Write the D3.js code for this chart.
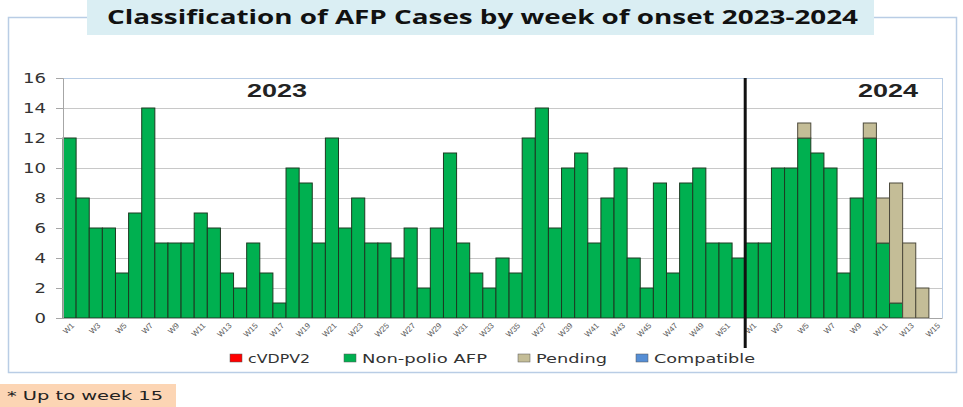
<!DOCTYPE html>
<html>
<head>
<meta charset="utf-8">
<script src="https://d3js.org/d3.v7.min.js"></script>
<style>
  body { margin: 0; background: #fff; }
  svg { display: block; font-family: "Liberation Sans", Arial, sans-serif; }
</style>
</head>
<body>
<div class="vis"></div>
<script>
    // weekly AFP case counts
    var weeks2023 = d3.range(1, 53).map(d => "W" + d);
    var weeks2024 = d3.range(1, 16).map(d => "W" + d);

    var nonPolio2023 = [12, 8, 6, 6, 3, 7, 14, 5, 5, 5, 7, 6, 3, 2, 5, 3, 1, 10, 9, 5,
        12, 6, 8, 5, 5, 4, 6, 2, 6, 11, 5, 3, 2, 4, 3, 12, 14, 6, 10, 11,
        5, 8, 10, 4, 2, 9, 3, 9, 10, 5, 5, 4];
    var pending2023 = nonPolio2023.map(() => 0);

    var nonPolio2024 = [5, 5, 10, 10, 12, 11, 10, 3, 8, 12, 5, 1, 0, 0, 0];
    var pending2024 = [0, 0, 0, 0, 1, 0, 0, 0, 0, 1, 3, 8, 5, 2, 0];

    var yTicks = [0, 2, 4, 6, 8, 10, 12, 14, 16];
    var legendItems = ["cVDPV2", "Non-polio AFP", "Pending", "Compatible"];
    var legendColors = ["#ff0000", "#00b050", "#c4bd97", "#558ed5"];

    var data = [];
    weeks2023.forEach((w, i) => data.push({ key: "2023-" + w, label: w, "Non-polio AFP": nonPolio2023[i], "Pending": pending2023[i] }));
    weeks2024.forEach((w, i) => data.push({ key: "2024-" + w, label: w, "Non-polio AFP": nonPolio2024[i], "Pending": pending2024[i] }));

    var width = 963, height = 407;
    var margin = { top: 78, right: 21, bottom: 89, left: 63 };

    var svg = d3.select('.vis')
        .append("svg")
        .attr("width", width)
        .attr("height", height)
        .attr("viewBox", [0, 0, width, height]);

    // outer chart frame
    svg.append("rect")
        .attr("x", 8.5).attr("y", 17.5)
        .attr("width", 948).attr("height", 355)
        .attr("fill", "none")
        .attr("stroke", "#b9cde5")
        .attr("stroke-width", 1.5);

    // title box
    svg.append("rect")
        .attr("x", 87).attr("y", 0)
        .attr("width", 787).attr("height", 35)
        .attr("fill", "#daeef3");
    svg.append("text")
        .attr("x", 107).attr("y", 24)
        .attr("font-weight", "bold")
        .attr("font-size", 20)
        .attr("font-family", "'Open Sans', sans-serif")
        .attr("fill", "#111")
        .attr("textLength", 751)
        .attr("lengthAdjust", "spacingAndGlyphs")
        .text("Classification of AFP Cases by week of onset 2023-2024");

    var x = d3.scaleBand()
        .domain(data.map(d => d.key))
        .range([margin.left, width - margin.right])
        .padding(0);

    var y = d3.scaleLinear()
        .domain([0, 16])
        .range([height - margin.bottom, margin.top]);

    // grid
    svg.append("g")
        .selectAll("line")
        .data(yTicks.slice(1))
        .join("line")
        .attr("x1", margin.left).attr("x2", width - margin.right)
        .attr("y1", d => y(d) + 0.5).attr("y2", d => y(d) + 0.5)
        .attr("stroke", d => d === 16 ? "#b9cde5" : "#c8c8c8")
        .attr("stroke-width", 1);

    // plot right border
    svg.append("line")
        .attr("x1", width - margin.right + 0.5).attr("x2", width - margin.right + 0.5)
        .attr("y1", margin.top).attr("y2", height - margin.bottom)
        .attr("stroke", "#b9cde5");

    var stack = d3.stack().keys(["Non-polio AFP", "Pending"]);
    var series = stack(data);
    var color = d3.scaleOrdinal(["Non-polio AFP", "Pending"], ["#00b050", "#c4bd97"]);
    var strokeColor = d3.scaleOrdinal(["Non-polio AFP", "Pending"], ["#1d3a22", "#4d4a3c"]);

    svg.append("g")
        .selectAll("g")
        .data(series)
        .join("g")
        .attr("fill", d => color(d.key))
        .attr("stroke", d => strokeColor(d.key))
        .attr("stroke-width", 1)
        .selectAll("rect")
        .data(d => d.filter(s => s[1] - s[0] > 0))
        .join("rect")
        .attr("x", d => x(d.data.key))
        .attr("y", d => y(d[1]))
        .attr("width", x.bandwidth())
        .attr("height", d => y(d[0]) - y(d[1]));

    // y axis
    var yAxis = g => g
        .attr("transform", `translate(${margin.left},0)`)
        .call(d3.axisLeft(y).tickValues(yTicks).tickSize(7).tickPadding(10))
        .call(g => g.select(".domain").attr("stroke", "#a6a6a6"))
        .call(g => g.selectAll(".tick line").attr("stroke", "#a6a6a6"))
        .call(g => g.selectAll(".tick text")
            .attr("font-size", 14)
            .attr("font-family", "'DejaVu Sans', sans-serif")
            .attr("fill", "#333")
            .attr("textLength", d => String(d).length * 11.5)
            .attr("lengthAdjust", "spacingAndGlyphs"));
    svg.append("g").call(yAxis);

    // x axis
    var xAxis = g => g
        .attr("transform", `translate(0,${height - margin.bottom})`)
        .call(d3.axisBottom(x).tickSize(0).tickFormat((k, i) => i % 2 === 0 ? data[i].label : ""))
        .call(g => g.select(".domain").attr("stroke", "#a6a6a6"))
        .call(g => g.selectAll(".tick text")
            .attr("font-size", 8)
            .attr("fill", "#595959")
            .attr("text-anchor", "end")
            .attr("dy", 0)
            .attr("transform", "translate(3,6) rotate(-45)"));
    svg.append("g").call(xAxis);

    // year divider
    var divX = x("2024-W1");
    svg.append("line")
        .attr("x1", divX).attr("x2", divX)
        .attr("y1", margin.top).attr("y2", 348)
        .attr("stroke", "#111")
        .attr("stroke-width", 3);

    // year labels
    var yearLabel = (cx, t) => svg.append("text")
        .attr("x", cx - 30).attr("y", 97)
        .attr("font-weight", "bold")
        .attr("font-size", 18)
        .attr("fill", "#222")
        .attr("textLength", 60)
        .attr("lengthAdjust", "spacingAndGlyphs")
        .text(t);
    yearLabel(277, "2023");
    yearLabel(888, "2024");

    // legend
    var legendX = [230, 344, 518, 636];
    var legendW = [62, 125, 71, 101];
    var legend = svg.append("g")
        .selectAll("g")
        .data(legendItems)
        .join("g")
        .attr("transform", (d, i) => `translate(${legendX[i]},358)`);
    legend.append("rect")
        .attr("x", 0).attr("y", -4)
        .attr("width", 12).attr("height", 8)
        .attr("fill", (d, i) => legendColors[i])
        .attr("stroke", "#555")
        .attr("stroke-width", 0.5);
    legend.append("text")
        .attr("x", 18).attr("y", 4.5)
        .attr("font-size", 12)
        .attr("font-family", "'DejaVu Sans', sans-serif")
        .attr("fill", "#333")
        .attr("textLength", (d, i) => legendW[i])
        .attr("lengthAdjust", "spacingAndGlyphs")
        .text(d => d);

    // footnote
    svg.append("rect")
        .attr("x", 0).attr("y", 384)
        .attr("width", 176).attr("height", 23)
        .attr("fill", "#fcd5b4");
    svg.append("text")
        .attr("x", 7).attr("y", 400)
        .attr("font-size", 13)
        .attr("font-family", "'DejaVu Sans', sans-serif")
        .attr("fill", "#222")
        .attr("textLength", 156)
        .attr("lengthAdjust", "spacingAndGlyphs")
        .text("* Up to week 15");
</script>
</body>
</html>
